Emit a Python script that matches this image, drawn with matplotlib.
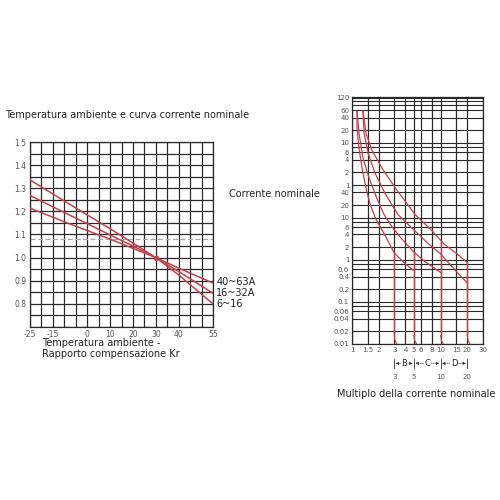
import matplotlib
matplotlib.use("Agg")
import matplotlib.pyplot as plt
import numpy as np

# ---------------- Left chart data ----------------
temp_x = [-25, -10, 0, 10, 20, 30, 40, 55]
kr_6_16 = [1.336, 1.245, 1.185, 1.125, 1.063, 1.0, 0.925, 0.80]
kr_16_32 = [1.269, 1.195, 1.147, 1.098, 1.05, 1.0, 0.94, 0.846]
kr_40_63 = [1.214, 1.155, 1.117, 1.08, 1.04, 1.0, 0.955, 0.89]
series_labels = ["40~63A", "16~32A", "6~16"]
ref_dashed = 1.079
left_xticks = [-25, -15, 0, 10, 20, 30, 40, 55]
left_yticks = [0.8, 0.9, 1.0, 1.1, 1.2, 1.3, 1.4, 1.5]

# ---------------- Right chart data (x = multiple of In, t = seconds) ----------------
c1_x = [1.14, 1.14, 1.20, 1.30, 1.44, 1.60, 1.87, 2.30, 3.0, 3.87, 4.86]
c1_t = [3400, 1340, 442, 151, 50, 21, 9.0, 4.2, 1.45, 0.86, 0.57]
c2_x = [1.14, 1.20, 1.33, 1.56, 1.92, 2.30, 2.84, 3.63, 5.0, 6.54, 8.0, 10.0]
c2_t = [3400, 1010, 266, 87, 28, 11.9, 6.0, 3.17, 1.52, 0.93, 0.69, 0.50]
c3_x = [1.33, 1.37, 1.52, 1.82, 2.36, 3.3, 4.86, 7.34, 10, 15, 20]
c3_t = [3400, 1010, 342, 114, 37.7, 11.9, 5.4, 2.38, 1.38, 0.53, 0.28]
c4_x = [1.33, 1.44, 1.68, 2.18, 3.1, 5.15, 8.0, 10.9, 15.3, 20]
c4_t = [3400, 1010, 399, 151, 50, 11.9, 4.9, 2.38, 1.38, 0.86]
trip_x = [3, 5, 10, 20]
trip_top = [1.45, 1.5, 2.6, 0.86]
tail_factor = [1.0, 1.02, 1.07]
tail_t = [0.016, 0.012, 0.0101]

right_xticks = [1, 1.5, 2, 3, 4, 5, 6, 8, 10, 15, 20, 30]
right_xlabels = ["1", "1.5", "2", "3", "4", "5", "6", "8", "10", "15", "20", "30"]
right_yticks = [7200, 3600, 2400, 1200, 600, 360, 240, 120, 60, 40, 20, 10, 6, 4, 2,
                1, 0.6, 0.4, 0.2, 0.1, 0.06, 0.04, 0.02, 0.01]
right_ylabels = ["120", "60", "40", "20", "10", "6", "4", "2", "1", "40", "20", "10", "6",
                 "4", "2", "1", "0.6", "0.4", "0.2", "0.1", "0.06", "0.04", "0.02", "0.01"]
extra_hlines = [6000, 4800, 480, 8, 0.8, 0.08]
bands = ["B", "C", "D"]
band_edges = [3, 5, 10, 20]

RED = "#c8404a"
GRID = "#2a2a2a"
TXT = "#222222"
TICK = "#555555"

plt.rcParams["font.family"] = ["DejaVu Sans"]

fig = plt.figure(figsize=(5, 5), dpi=100)
fig.patch.set_facecolor("white")

# ---------------- Left chart ----------------
ax1 = fig.add_axes([0.06, 0.346, 0.366, 0.37])
ax1.set_xlim(-25, 55)
ax1.set_ylim(0.7, 1.5)
for gx in np.arange(-25, 56, 5):
    ax1.axvline(gx, color=GRID, lw=0.9, zorder=1)
for gy in np.arange(0.7, 1.501, 0.05):
    ax1.axhline(gy, color=GRID, lw=0.9, zorder=1)
ax1.axhline(ref_dashed, color="#aaaaaa", lw=0.9, ls=(0, (4, 2)), zorder=2)
ax1.plot(temp_x, kr_6_16, color=RED, lw=1.1, zorder=3)
ax1.plot(temp_x, kr_16_32, color=RED, lw=1.1, zorder=3)
ax1.plot(temp_x, kr_40_63, color=RED, lw=1.1, zorder=3)
ax1.plot([30], [1.0], "o", color=RED, ms=3, zorder=4)
ax1.set_xticks(left_xticks)
ax1.set_xticklabels([str(v) for v in left_xticks])
ax1.set_yticks(left_yticks)
ax1.set_yticklabels(["%.1f" % v for v in left_yticks])
ax1.tick_params(length=0, labelsize=5.5, colors=TICK, pad=2.5)
for s in ax1.spines.values():
    s.set_color(GRID)
    s.set_linewidth(0.9)
ax1.text(56.5, 0.895, series_labels[0], fontsize=7, color=TXT, va="center", ha="left", clip_on=False)
ax1.text(56.5, 0.848, series_labels[1], fontsize=7, color=TXT, va="center", ha="left", clip_on=False)
ax1.text(56.5, 0.800, series_labels[2], fontsize=7, color=TXT, va="center", ha="left", clip_on=False)

fig.text(0.01, 0.77, "Temperatura ambiente e curva corrente nominale", fontsize=7, color=TXT,
         ha="left", va="center")
fig.text(0.458, 0.612, "Corrente nominale", fontsize=7, color=TXT, ha="left", va="center")
fig.text(0.084, 0.313, "Temperatura ambiente -", fontsize=7, color=TXT, ha="left", va="center")
fig.text(0.084, 0.292, "Rapporto compensazione Kr", fontsize=7, color=TXT, ha="left", va="center")

# ---------------- Right chart ----------------
ax2 = fig.add_axes([0.704, 0.312, 0.262, 0.494])
ax2.set_xscale("log")
ax2.set_yscale("log")
ax2.set_xlim(1, 30)
ax2.set_ylim(0.01, 7400)
for gx in right_xticks:
    ax2.axvline(gx, color=GRID, lw=0.9, zorder=1)
for gy in right_yticks + extra_hlines:
    ax2.axhline(gy, color=GRID, lw=0.8, zorder=1)
for cx, ct in [(c1_x, c1_t), (c2_x, c2_t), (c3_x, c3_t), (c4_x, c4_t)]:
    ax2.plot(cx, ct, color=RED, lw=0.9, zorder=3)
for tx, tt in zip(trip_x, trip_top):
    ax2.plot([tx, tx], [tt, tail_t[0]], color=RED, lw=1.0, zorder=3)
    ax2.plot([tx * f for f in tail_factor], tail_t, color=RED, lw=0.8, zorder=3)
ax2.set_xticks(right_xticks)
ax2.set_xticklabels(right_xlabels)
ax2.set_yticks(right_yticks)
ax2.set_yticklabels(right_ylabels)
ax2.minorticks_off()
ax2.tick_params(length=0, labelsize=5, colors=TICK, pad=2)
for s in ax2.spines.values():
    s.set_color(GRID)
    s.set_linewidth(0.9)

# B / C / D bands below the axis
yb = -0.078
ylab = -0.135
for xe in band_edges:
    ax2.plot([xe, xe], [yb + 0.018, yb - 0.018], color="#333333", lw=0.6,
             transform=ax2.get_xaxis_transform(), clip_on=False)
    ax2.text(xe, ylab, str(xe), fontsize=5, color=TICK, ha="center", va="center",
             transform=ax2.get_xaxis_transform())
for i, b in enumerate(bands):
    a, c = band_edges[i], band_edges[i + 1]
    ax2.annotate("", xy=(c, yb), xytext=(a, yb), xycoords=ax2.get_xaxis_transform(),
                 textcoords=ax2.get_xaxis_transform(),
                 arrowprops=dict(arrowstyle="<|-|>", lw=0.5, color="#333333",
                                 mutation_scale=4, shrinkA=1, shrinkB=1,
                                 linestyle=(0, (1.5, 1.5))))
    ax2.text(np.sqrt(a * c), yb, b, fontsize=6, color=TXT, ha="center", va="center",
             transform=ax2.get_xaxis_transform(),
             bbox=dict(facecolor="white", edgecolor="none", pad=0.5))

fig.text(0.832, 0.212, "Multiplo della corrente nominale", fontsize=7, color=TXT,
         ha="center", va="center")

fig.savefig("out.png", dpi=100, facecolor="white")
